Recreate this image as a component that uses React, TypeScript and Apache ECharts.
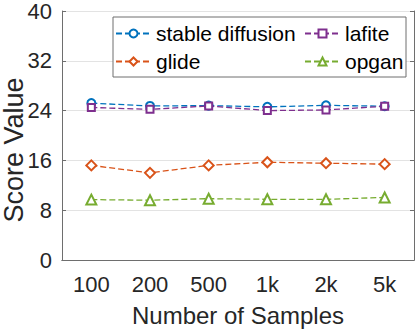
import React, { useEffect, useRef } from "react";
import * as echarts from "echarts";

const categories = ["100", "200", "500", "1k", "2k", "5k"];
const stableDiffusion = [25.2, 24.75, 24.8, 24.6, 24.85, 24.7];
const lafite = [24.5, 24.2, 24.75, 24.0, 24.1, 24.7];
const glide = [15.2, 14.0, 15.2, 15.7, 15.55, 15.4];
const opgan = [9.7, 9.6, 9.85, 9.75, 9.75, 10.05];
const yTicks = [0, 8, 16, 24, 32, 40];

const FONT = "Liberation Sans, Arial, Helvetica, sans-serif";
const AXIS_COLOR = "#6e6e6e";
const TEXT_COLOR = "#262626";

export default function App() {
  const ref = useRef<HTMLDivElement>(null);
  useEffect(() => {
    if (!ref.current) return;
    const chart = echarts.init(ref.current, null, { renderer: "svg" });
    const mkSeries = (name: string, data: number[], color: string, symbol: string, size: number, z: number) => ({
      name,
      type: "line",
      data,
      xAxisIndex: 0,
      yAxisIndex: 0,
      symbol,
      symbolSize: size,
      z,
      lineStyle: { type: [6, 3], width: 1.3, color },
      itemStyle: { color, borderColor: color, borderWidth: 1.3 },
    });
    const legendText = { fontSize: 21, color: "#000", fontFamily: FONT };
    chart.setOption({
      animation: false,
      backgroundColor: "#fff",
      textStyle: { fontFamily: FONT },
      grid: { left: 62, right: 2, top: 9, bottom: 69, containLabel: false },
      xAxis: [
        {
          type: "category",
          data: categories,
          position: "bottom",
          boundaryGap: true,
          axisLine: { lineStyle: { color: AXIS_COLOR, width: 1 } },
          axisTick: { inside: true, alignWithLabel: true, length: 4, lineStyle: { color: AXIS_COLOR } },
          axisLabel: { fontSize: 22, color: TEXT_COLOR, margin: 13, fontFamily: FONT },
          splitLine: { show: false },
          name: "Number of Samples",
          nameLocation: "middle",
          nameGap: 55,
          nameTextStyle: { fontSize: 24, color: TEXT_COLOR, fontFamily: FONT, verticalAlign: "middle" },
        },
        {
          type: "category",
          data: categories,
          position: "top",
          boundaryGap: true,
          axisLine: { lineStyle: { color: AXIS_COLOR, width: 1 } },
          axisTick: { inside: true, alignWithLabel: true, length: 4, lineStyle: { color: AXIS_COLOR } },
          axisLabel: { show: false },
          splitLine: { show: false },
        },
      ],
      yAxis: [
        {
          type: "value",
          min: yTicks[0],
          max: yTicks[yTicks.length - 1],
          interval: 8,
          position: "left",
          axisLine: { show: true, lineStyle: { color: AXIS_COLOR, width: 1 } },
          axisTick: { show: true, inside: true, length: 4, lineStyle: { color: AXIS_COLOR } },
          axisLabel: { fontSize: 22, color: TEXT_COLOR, margin: 10, fontFamily: FONT },
          splitLine: { show: true, lineStyle: { color: "#e3e3e3", width: 1 } },
        },
        {
          type: "value",
          min: yTicks[0],
          max: yTicks[yTicks.length - 1],
          interval: 8,
          position: "right",
          axisLine: { show: true, lineStyle: { color: AXIS_COLOR, width: 1 } },
          axisTick: { show: true, inside: true, length: 4, lineStyle: { color: AXIS_COLOR } },
          axisLabel: { show: false },
          splitLine: { show: false },
        },
      ],
      legend: [
        {
          data: ["stable diffusion", "glide"],
          orient: "vertical",
          left: 115,
          top: 23,
          padding: 0,
          itemWidth: 35,
          itemHeight: 10,
          itemGap: 7,
          textStyle: legendText,
          z: 6,
        },
        {
          data: ["lafite", "opgan"],
          orient: "vertical",
          left: 304,
          top: 23,
          padding: 0,
          itemWidth: 35,
          itemHeight: 10,
          itemGap: 7,
          textStyle: legendText,
          z: 6,
        },
      ],
      graphic: [
        {
          type: "rect",
          z: 5,
          shape: { x: 113, y: 17, width: 293, height: 60 },
          style: { fill: "#fff", stroke: AXIS_COLOR, lineWidth: 1 },
        },
        {
          type: "text",
          x: 14,
          y: 150,
          rotation: Math.PI / 2,
          style: {
            text: "Score Value",
            fontSize: 27,
            fontFamily: FONT,
            fill: TEXT_COLOR,
            textAlign: "center",
            textVerticalAlign: "middle",
          },
        },
      ],
      series: [
        mkSeries("stable diffusion", stableDiffusion, "#0072BD", "emptyCircle", 8, 3),
        mkSeries("glide", glide, "#D95319", "emptyDiamond", 10, 3),
        mkSeries("lafite", lafite, "#7E2F8E", "emptyRect", 7, 4),
        mkSeries("opgan", opgan, "#77AC30", "emptyTriangle", 10, 3),
      ],
    });
    return () => chart.dispose();
  }, []);
  return <div ref={ref} style={{ width: 416, height: 332, position: "absolute", left: 0, top: 0 }} />;
}
